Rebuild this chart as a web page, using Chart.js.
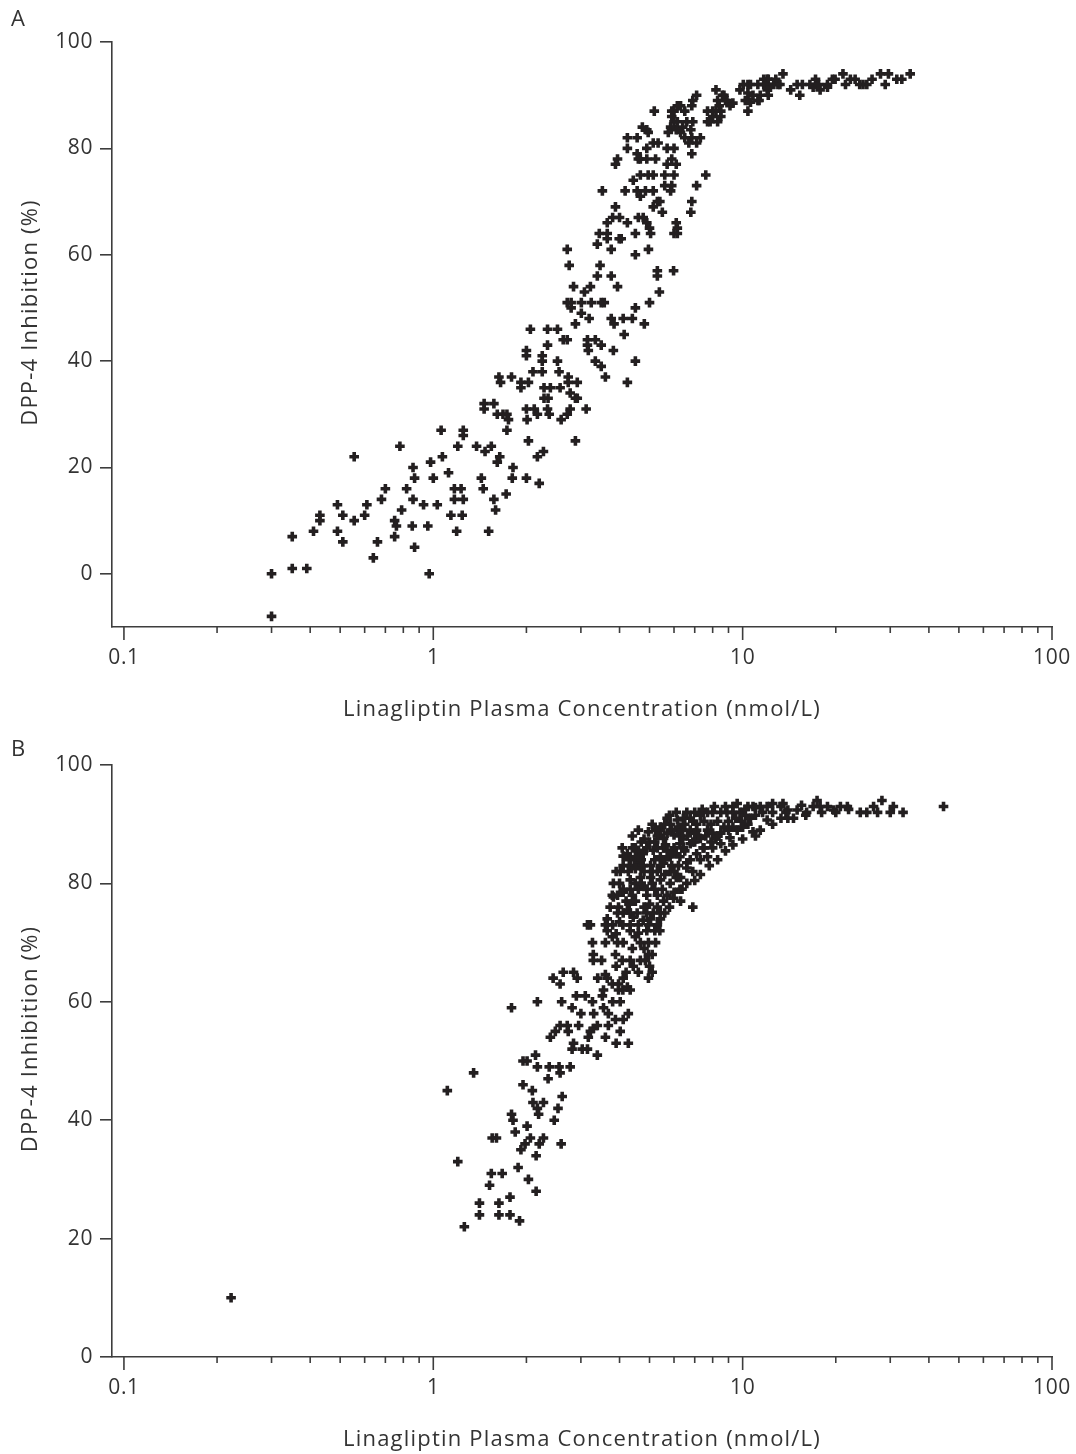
<!DOCTYPE html>
<html>
<head>
<meta charset="utf-8">
<script src="https://cdn.jsdelivr.net/npm/chart.js@4.4.1/dist/chart.umd.min.js"></script>
<style>
  html, body { margin: 0; padding: 0; background: #ffffff; }
  .panel { width: 1076px; height: 727px; }
  canvas { display: block; }
</style>
</head>
<body>
<div class="panel"><canvas id="chartA" width="1076" height="727"></canvas></div>
<div class="panel"><canvas id="chartB" width="1076" height="727"></canvas></div>
<script>
// Linagliptin plasma concentration (nmol/L) vs DPP-4 inhibition (%), one [conc, inhibition] pair per observation.
const panelA = [
  [0.30,0],[0.30,-8],[0.35,1],[0.39,1],[0.35,7],[0.41,8],[0.43,10],[0.43,11],[0.49,13],[0.49,8],
  [0.51,6],[0.51,11],[0.555,22],[0.555,10],[0.60,11],[0.61,13],[0.64,3],[0.66,6],[0.68,14],[0.70,16],
  [0.75,7],[0.75,10],[0.78,24],[0.76,9],[0.79,12],[0.82,16],[0.86,20],[0.86,14],[0.87,18],[0.855,9],
  [0.87,5],[0.93,13],[0.96,9],[0.97,0],[0.98,21],[1.0,18],[1.03,13],[1.06,27],[1.07,22],[1.12,19],
  [1.14,11],[1.17,16],[1.23,16],[1.17,14],[1.25,14],[1.19,8],[1.24,11],[1.20,24],[1.25,27],[1.25,26],
  [1.38,24],[1.46,32],[1.46,31],[1.57,32],[1.47,23],[1.54,24],[1.43,18],[1.45,16],[1.51,8],[1.57,14],
  [1.59,12],[1.61,21],[1.64,22],[1.61,30],[1.68,30],[1.73,30],[1.75,29],[1.73,27],[1.81,20],[1.80,18],
  [1.72,15],[2.0,31],[2.12,31],[2.01,29],[2.03,25],[2.0,18],[2.17,22],[2.2,17],[2.27,23],
  [2.71,61],[2.75,58],[2.84,54],[3.08,53],[3.22,54],[2.71,51],[2.79,51],[3.01,51],[3.24,51],[3.49,51],
  [3.57,51],[2.79,50],[3.01,49],[3.19,48],[2.88,47],[3.39,62],[3.46,58],[3.39,56],[3.76,56],[3.94,54],
  [3.76,61],[3.76,48],[3.84,47],[4.11,48],[4.4,48],[4.14,45],[4.5,50],[4.81,47],[5.0,51],[5.38,53],
  [5.3,57],[5.3,56],[5.98,57],[4.5,60],[4.96,61],[4.5,64],[5.04,64],[6.15,64],[6.15,65],[3.44,64],
  [3.65,64],[3.65,63],[3.99,63],[4.05,63],[2.06,46],[2.34,46],[2.52,46],[2.34,43],[2.63,44],[2.71,44],
  [2.0,42],[2.0,41],[2.25,41],[2.25,40],[2.52,40],[1.63,37],[1.65,36],[1.79,37],[1.92,36],[2.03,36],
  [1.92,35],[2.1,38],[2.25,38],[2.55,38],[2.73,37],[2.73,36],[2.92,36],[2.28,35],[2.39,35],[2.57,35],
  [2.77,34],[2.88,33],[2.92,33],[2.28,33],[2.35,33],[2.17,30],[2.34,31],[2.37,30],[2.77,31],[3.12,31],
  [2.59,29],[2.71,30],[2.88,25],[3.34,40],[3.49,39],[3.6,37],[4.24,36],[4.5,40],[3.15,44],[3.34,44],
  [3.15,43],[3.17,42],[3.49,43],[3.82,42],
  [13.5,94],[12,93],[11.7,92],[11.2,92],[13,92],[12.6,92],[12,91],[11.4,90],[10.8,90],[11.2,89],
  [10.4,92],[10.6,92],[9.8,91],[10.4,89],[10.4,87],[14.3,91],[15,92],[9.1,88],[9.3,88.5],[8.8,89],
  [8.6,90],[8.2,91],[8.5,87],[8.0,86],[7.85,85],[8.3,85],[7.7,87],[8.0,87],[7.1,90],[6.9,89],
  [6.85,88],[6.5,87],[6.6,85],[6.4,84],[6.9,85],[6.8,83.5],[6.85,82],[6.5,82],[7.3,82],[7.1,81],
  [6.7,81],[6.85,79],[6.3,83],[6.3,88],[6.15,88],[6.0,87],[5.9,86],[6.0,85],[5.85,84],[6.1,83.5],
  [5.75,83],[5.9,87],[6.15,85],[5.18,87],[4.74,84],[4.9,83.5],[4.95,83],[4.24,82],[4.56,82],[4.24,80],
  [4.56,79],[4.67,78],[4.9,80],[5.14,81],[5.33,81],[3.94,78],[3.88,77],[4.9,78],[5.23,78],[4.6,78],
  [5.7,80],[6.0,80],[5.9,78],[5.7,77],[6.1,77],[7.6,75],[7.1,73],[6.85,70],[6.8,68],[4.43,74],
  [4.67,75],[4.95,75],[5.14,75],[5.6,75],[6.0,75],[3.52,72],[4.17,72],[4.56,72],[4.85,72],[5.14,72],
  [4.67,71],[5.6,73],[5.9,73],[5.85,72],[5.3,70],[5.4,70],[5.14,69],[5.5,68],[3.88,69],[3.8,67],
  [4.0,67],[3.65,66],[4.24,66],[4.6,67],[4.77,67],[4.9,66],[5.0,65],[6.1,66],[6.0,64],
  [10.05,92],[10.4,90.4],[11.3,89],[10.2,89],[12.1,90],[10.6,88.7],[11.7,93],[12.1,93],[12.8,93],[11.8,92],
  [12.3,91.5],[13.2,92],[8.7,90],[8.3,89],[8.9,89],[8.4,88],[8.2,87],[8.5,86],[7.7,85],[15.3,90],
  [15.6,92],[16.5,92],[17.2,93],[16.9,91.5],[17.8,91],[17.6,92],[18.8,92],[19.5,93],[19.9,93],[18.8,91.5],
  [21.1,94],[21.5,92],[22.3,93],[23.1,93],[23.9,92],[24.5,92],[25.2,92],[26.2,93],[27.9,94],[29.6,94],
  [28.9,92],[31.5,93],[32.7,93],[34.8,94]
];

const panelB = [
  [0.222,10],[1.26,22],[1.41,24],[1.41,26],[1.52,29],[1.63,24],[1.63,26],[1.77,24],[1.77,27],[1.9,23],
  [2.03,30],[2.15,28],[1.11,45],[1.35,48],[1.2,33],[1.79,59],[2.17,60],[2.81,59],[2.39,54],[2.48,55],
  [2.57,56],[2.71,56],[2.73,55],[2.95,56],[2.84,53],[2.81,52],[1.95,50],[2.01,50],[2.14,51],[2.17,49],
  [2.37,49],[2.55,49],[2.57,48],[2.77,49],[1.95,46],[2.09,45],[2.35,47],[2.61,44],[2.1,43],[2.27,43],
  [2.17,42],[2.19,41],[2.53,42],[2.46,40],[1.79,41],[1.81,40],[1.84,38],[2.01,39],[1.55,37],[1.6,37],
  [2.06,37],[2.27,37],[1.98,36],[1.92,35],[2.2,36],[2.59,36],[2.15,34],[1.54,31],[1.67,31],[1.88,32],
  [3.17,54],[3.22,55],[3.29,55.5],[3.39,56],[3.68,56],[4.02,55],[4.27,53],[3.39,51],[3.03,52],[3.15,52],
  [3.1,61],[3.27,60],[3.52,61],[3.55,59],[3.68,58],[3.88,57],[4.02,60],[4.11,57],[4.27,58],[4.24,62.5],
  [4.33,62],[3.97,62],[3.55,62],[3.79,63],[2.44,64],[2.57,63],[2.63,65],[2.84,65],[2.92,64],[3.6,64.6],
  [3.65,64],[3.97,63],[4.11,64],[4.96,68],[5.0,66],[5.1,65],[4.96,64],[4.67,67],[4.43,66],[4.85,67],
  [3.27,70],[3.29,68],[3.29,67],[3.88,68],[4.08,67],[4.33,67],[3.15,73],[3.65,74],[3.6,73],[3.65,72],
  [3.79,71],[3.94,70],[4.11,70],[4.33,72],[4.6,71.6],[4.67,70],[4.96,70],[5.23,70],[4.33,73],[3.73,76],
  [3.97,76],[4.24,75.5],[4.56,75],[4.9,75],[5.42,74],[5.04,74],[5.3,73],[4.33,75],[3.94,75],[3.82,80],
  [3.79,78],[3.94,78],[4.11,78.5],[4.33,79],[4.6,79],[4.9,79],[5.3,78],[5.55,77],[5.98,77.5],[6.37,79],
  [6.1,81],[6.9,76],[4.08,86],[4.24,85],[4.5,86],[4.77,85],[4.02,82],[4.11,83],[4.27,82],[4.56,83.6],
  [4.77,83],[5.1,82],[5.42,83],[5.83,82],[6.2,81],[4.6,89],[4.96,88.7],[5.42,89.5],[6.15,89],[6.63,88],
  [7.1,89],[7.45,86],[6.43,86],[6.1,85],[5.63,86.5],[6.77,84],
  [44.6,93],[28.2,94],[30.7,93],[33,92],[30,92],[26.5,93],[25.2,92],[24,92],[27.3,92],[21.8,93],
  [20.7,93],[19.7,92.4],[18.8,93],[17.8,93],[16.9,93],[17.4,94],[16.1,92],[15,92.4],[14.6,91],[13.3,91],
  [14,92.4],[13.3,93],[12,93],[11.4,93],[10.8,93],[10.4,93],[9.8,92],[9.3,93],[9.3,92],[8.9,92],
  [8.5,92],[8.0,92],[7.7,92],[7.3,91.5],[7.0,92],[6.77,91],[6.43,91],[6.15,90.7],[5.83,90],[5.7,91],
  [5.42,89],[5.23,89],[5.55,87.6],[6.27,88],[6.77,89],[7.1,90],[7.7,89],[8.0,88.5],[8.5,88.5],[9.1,87.7],
  [9.6,89],[10.8,88.7],[10.4,90],[11.4,89],[12,90.7],[5.55,86],[6.0,86],[6.27,86.7],[6.77,86.7],[7.3,87.6],
  [7.7,84.5],[8.0,86],[8.5,86.7],[7.1,85],[6.6,83.5],[6.27,84.5],[5.83,84.5],[5.42,84.5],[5.14,85.6],[4.9,86],
  [4.6,85.6],[4.4,86],[4.11,84.6],[4.5,84.5],[4.33,83],[4.67,83],[5.04,83],[5.55,83.4],[6.0,82],[6.6,82.6],
  [4.11,79],[4.33,80.6],[4.67,81],[5.04,81],[5.42,80.6],[5.83,80],[6.27,79],[5.7,78],[4.9,78],[3.82,77.7],
  [4.11,75],[4.43,74.3],[4.77,73.8],[5.14,75],[5.42,75],[4.96,73],[3.22,73],
  [5.0,87],[5.3,88],[5.6,90],[5.9,89],[6.2,89.5],[6.5,90],[6.9,90.5],[7.2,88],[7.5,90.5],[7.9,90],
  [8.3,90.5],[8.7,89.5],[9.0,90.5],[9.5,91],[9.9,90.5],[10.2,91.5],[10.6,91],[11.0,91.5],[11.6,92],[12.5,92],
  [13.8,92],[5.2,84],[5.7,85.5],[6.4,87.5],[7.0,87],[7.5,86],[8.2,87.5],[9.0,89],[4.8,82],[5.3,82],
  [5.9,83],[6.3,81],[4.5,80],[4.8,79.5],[5.2,79],[5.6,81.5],[4.2,77],[4.5,77],[5.0,76.5],[4.0,73.5],
  [4.6,73],[3.9,71.5],
  [5.8,91.5],[6.1,92],[6.6,92],[7.4,92.5],[8.1,93],[8.8,93],[9.6,93.5],[10.2,92.5],[11.0,92.8],[6.4,89],
  [7.0,88.5],[7.6,88],[8.3,88],[9.3,89.5],[10.0,89.5],[6.9,87],[7.9,87],[6.0,88.2],[5.7,88.5],[5.3,86],
  [4.8,87.5],[5.1,90],[4.7,87],[4.4,88],[4.3,84],[4.7,84],[5.2,87],[5.9,85],[6.5,85.5],[7.3,84],
  [6.9,82],[6.2,83],[5.6,84],[5.1,80],[4.7,80],[4.4,78],[4.0,80],[3.9,82],[4.5,82.5],[5.5,79],
  [6.0,78.5],[4.3,76.5],[4.8,76],[5.3,76],[4.1,73],[4.5,71],[4.9,72],[5.2,72],[3.8,73],[3.6,70],
  [3.9,66],[4.2,65],[4.6,65],[3.5,67],[3.4,64],[3.8,60],[4.1,62],[3.3,58],[3.6,54],[3.9,53],
  [2.9,61],[3.0,58],[2.6,60],[4.4,69],[4.8,69],[5.1,68],[5.4,72],[5.6,75],[5.8,76],[6.3,77],
  [6.6,80],[7.0,80.5],[7.3,81.5],[7.8,83],[8.3,84],[8.8,85.5],[9.3,86.5],[10.0,87.5],[11,88],[12.5,90],
  [14,91],[16,91.5],[18,92],[20,92],[22,92.5],[15.5,93.2],[13.5,93.5],[12.5,93.5]
];

// Axis ticks and labels
const yTicks = [0, 20, 40, 60, 80, 100];
const xMajor = [0.1, 1, 10, 100];
const xTickLabels = ['0.1', '1', '10', '100'];
const xMinorSteps = [2, 3, 4, 5, 6, 7, 8, 9];
const xTitle = 'Linagliptin Plasma Concentration (nmol/L)';
const yTitle = 'DPP-4 Inhibition (%)';

const INK = '#231f20';
const AXIS = '#3d3d3d';
const TEXT = '#333333';
const FONT = '"Open Sans", "Noto Sans", sans-serif';
const CANVAS_H = 727;

// Slightly open letter spacing for every label on the canvas
const spacing = {
  id: 'spacing',
  beforeDraw(chart) { chart.ctx.letterSpacing = '0.6px'; }
};

// Log-axis tick marks, axis titles and the panel letter
const decor = {
  id: 'decor',
  afterDraw(chart, args, opts) {
    const { ctx, chartArea: a } = chart;
    const x = chart.scales.x;
    ctx.save();
    ctx.strokeStyle = AXIS;
    ctx.lineWidth = 1.6;
    const tick = (v, len) => {
      const px = x.getPixelForValue(v);
      ctx.beginPath();
      ctx.moveTo(px, a.bottom);
      ctx.lineTo(px, a.bottom + len);
      ctx.stroke();
    };
    xMajor.forEach(d => {
      tick(d, 13);
      if (d < 100) xMinorSteps.forEach(m => tick(d * m, 6));
    });

    ctx.fillStyle = TEXT;
    ctx.font = '22px ' + FONT;
    ctx.letterSpacing = '1.2px';
    ctx.textAlign = 'center';
    ctx.textBaseline = 'middle';
    ctx.fillText(xTitle, (a.left + a.right) / 2, a.bottom + 83);

    ctx.save();
    ctx.translate(31, (a.top + a.bottom) / 2 - 22);
    ctx.rotate(-Math.PI / 2);
    ctx.fillText(yTitle, 0, 0);
    ctx.restore();

    ctx.textAlign = 'left';
    ctx.letterSpacing = '0px';
    ctx.fillText(opts.letter, 11, opts.letterY);
    ctx.restore();
  }
};

function makePanel(canvasId, points, yMin, plotTop, plotBottom, letter, letterY) {
  return new Chart(document.getElementById(canvasId), {
    type: 'scatter',
    data: {
      datasets: [{
        data: points.map(([x, y]) => ({ x, y })),
        pointStyle: 'cross',
        pointRadius: 4.8,
        pointHoverRadius: 4.8,
        pointBorderWidth: 3.6,
        borderColor: INK,
        backgroundColor: INK
      }]
    },
    options: {
      responsive: false,
      animation: false,
      events: [],
      layout: { padding: { top: plotTop, right: 24, bottom: 0, left: 0 } },
      plugins: {
        legend: { display: false },
        tooltip: { enabled: false },
        decor: { letter, letterY }
      },
      scales: {
        x: {
          type: 'logarithmic',
          min: 0.0915,
          max: 100,
          grid: { display: false },
          border: { display: true, color: AXIS, width: 1.6 },
          afterBuildTicks: s => { s.ticks = xMajor.map(v => ({ value: v })); },
          afterFit: s => {
            s.height = CANVAS_H - plotBottom;
            s.paddingLeft = 0;
            s.paddingRight = 0;
          },
          ticks: {
            autoSkip: false,
            maxRotation: 0,
            padding: 10,
            color: TEXT,
            font: { family: FONT, size: 21 },
            callback: (v, i) => xTickLabels[i]
          }
        },
        y: {
          type: 'linear',
          min: yMin,
          max: 100,
          grid: {
            display: true,
            drawOnChartArea: false,
            drawTicks: true,
            tickLength: 12,
            color: AXIS,
            lineWidth: 1.6
          },
          border: { display: true, color: AXIS, width: 1.6 },
          afterBuildTicks: s => { s.ticks = yTicks.map(v => ({ value: v })); },
          afterFit: s => {
            s.width = 112;
            s.paddingTop = 0;
            s.paddingBottom = 0;
          },
          ticks: {
            padding: 7,
            color: TEXT,
            font: { family: FONT, size: 21 },
            callback: v => String(v)
          }
        }
      }
    },
    plugins: [spacing, decor]
  });
}

makePanel('chartA', panelA, -10, 42, 627, 'A', 20);
makePanel('chartB', panelB, 0, 38, 630, 'B', 23);
</script>
</body>
</html>
